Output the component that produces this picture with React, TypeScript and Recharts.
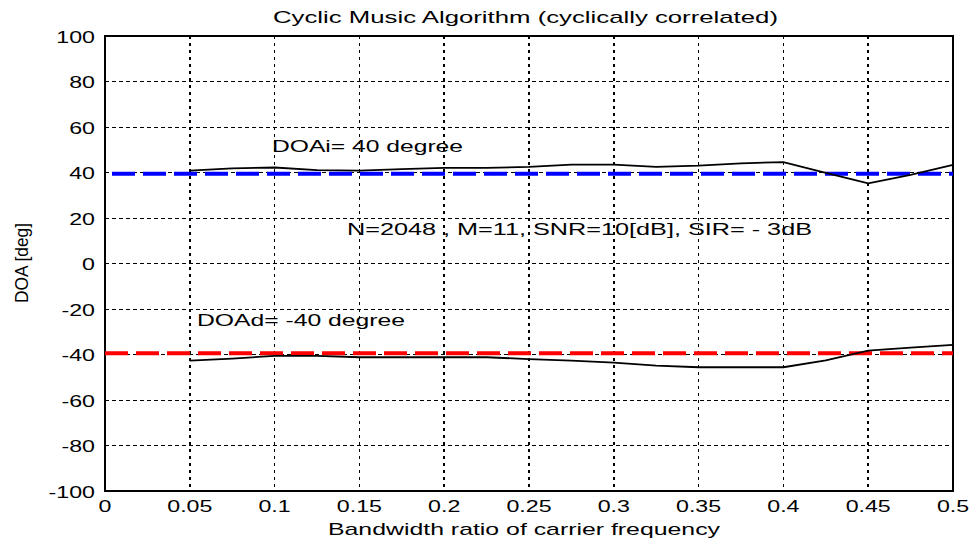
import { LineChart, Line, XAxis, YAxis, CartesianGrid, ReferenceArea } from 'recharts';

const X_TICKS = [0, 0.05, 0.1, 0.15, 0.2, 0.25, 0.3, 0.35, 0.4, 0.45, 0.5];
const Y_TICKS = [-100, -80, -60, -40, -20, 0, 20, 40, 60, 80, 100];

const RATIO = [0.05, 0.075, 0.1, 0.125, 0.15, 0.175, 0.2, 0.225, 0.25, 0.275, 0.3, 0.325, 0.35, 0.375, 0.4, 0.425, 0.45, 0.475, 0.5];
const DOA_I_EST = [40.8, 41.8, 42.2, 41, 40.8, 41.5, 42, 42, 42.5, 43.5, 43.5, 42.5, 43, 44, 44.6, 39.8, 35.2, 39, 43.3];
const DOA_D_EST = [-42.7, -41.8, -40.6, -40.6, -41.2, -41.2, -41.2, -41.2, -42, -42.7, -43.6, -44.9, -45.6, -45.6, -45.6, -42.6, -38.3, -37, -35.8];

const TRUE_X = [0, 0.5];
const DOA_I_TRUE = [39.5, 39.5];
const DOA_D_TRUE = [-39.5, -39.5];

const estI = RATIO.map((x, i) => ({ x, y: DOA_I_EST[i] }));
const estD = RATIO.map((x, i) => ({ x, y: DOA_D_EST[i] }));
const trueI = TRUE_X.map((x, i) => ({ x, y: DOA_I_TRUE[i] }));
const trueD = TRUE_X.map((x, i) => ({ x, y: DOA_D_TRUE[i] }));

const FONT = '"Liberation Sans", Arial, sans-serif';

function XTick({ x, y, payload }: any) {
    return (
        <text transform={`translate(${x},${y + 21}) scale(1.45,1)`} textAnchor="middle" fontFamily={FONT} fontSize={16} fill="#000">
            {String(payload.value)}
        </text>
    );
}

function YTick({ x, y, payload }: any) {
    return (
        <text transform={`translate(${x - 10},${y + 6.5}) scale(1.45,1)`} textAnchor="end" fontFamily={FONT} fontSize={16} fill="#000">
            {String(payload.value)}
        </text>
    );
}

function App() {
    return (
        <div style={{ position: 'absolute', left: 0, top: 0, width: 969, height: 541, background: '#fff' }}>
            <LineChart width={969} height={541} margin={{ top: 36, right: 16, left: 45, bottom: 0 }}>
                <CartesianGrid horizontal={true} vertical={false} stroke="#000" strokeDasharray="4 3" shapeRendering="crispEdges" />
                <CartesianGrid horizontal={false} vertical={true} stroke="#000" strokeWidth={1.5} strokeDasharray="3 4" shapeRendering="crispEdges" />
                <XAxis type="number" dataKey="x" domain={[0, 0.5]} ticks={X_TICKS} height={50}
                    axisLine={false} tickLine={false} tickSize={0} tickMargin={0} tick={<XTick />} interval={0} />
                <YAxis type="number" dataKey="y" domain={[-100, 100]} ticks={Y_TICKS} width={60}
                    axisLine={false} tickLine={false} tickSize={0} tickMargin={0} tick={<YTick />} interval={0} />
                <Line data={trueI} dataKey="y" stroke="#0000ff" strokeWidth={4} strokeDasharray="23 8" strokeDashoffset={-7} dot={false} isAnimationActive={false} />
                <Line data={trueD} dataKey="y" stroke="#ff0000" strokeWidth={4} strokeDasharray="23 8" dot={false} isAnimationActive={false} />
                <Line data={estI} dataKey="y" stroke="#000" strokeWidth={1.8} dot={false} isAnimationActive={false} />
                <Line data={estD} dataKey="y" stroke="#000" strokeWidth={1.8} dot={false} isAnimationActive={false} />
                <ReferenceArea x1={0} x2={0.5} y1={-100} y2={100} fill="none" fillOpacity={0} stroke="#000" strokeWidth={2} />
            </LineChart>
            <svg width={969} height={541} style={{ position: 'absolute', left: 0, top: 0, pointerEvents: 'none' }}
                fontFamily={FONT} fill="#000">
                <text x={273} y={23} fontSize={17} textLength={505} lengthAdjust="spacingAndGlyphs">
                    Cyclic Music Algorithm (cyclically correlated)
                </text>
                <text x={328} y={535} fontSize={17} textLength={392} lengthAdjust="spacingAndGlyphs">
                    Bandwidth ratio of carrier frequency
                </text>
                <text transform="translate(28,303) rotate(-90)" fontSize={19} textLength={80} lengthAdjust="spacingAndGlyphs">
                    DOA [deg]
                </text>
                <text x={272} y={152} fontSize={17} textLength={191} lengthAdjust="spacingAndGlyphs">
                    DOAi= 40 degree
                </text>
                <text x={347} y={235} fontSize={17} textLength={465} lengthAdjust="spacingAndGlyphs">
                    N=2048 , M=11, SNR=10[dB], SIR= - 3dB
                </text>
                <text x={197} y={326} fontSize={17} textLength={208} lengthAdjust="spacingAndGlyphs">
                    DOAd= -40 degree
                </text>
            </svg>
        </div>
    );
}

export default App;
